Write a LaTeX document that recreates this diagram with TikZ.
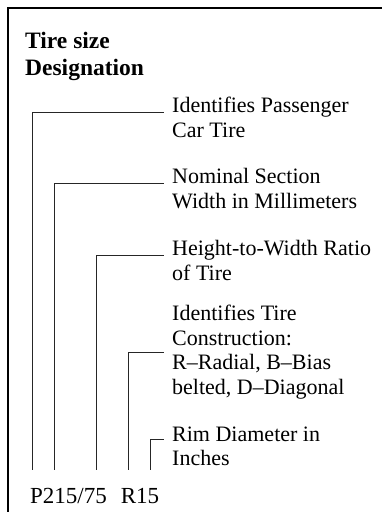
\documentclass[tikz,border=0pt]{standalone}
\usepackage{fontspec}
\setmainfont{Liberation Serif}
\tikzset{
  frame/.style={black,line width=1.5pt},
  lead/.style={black!85,line width=0.9pt},
  desc/.style={anchor=base west,align=left,inner xsep=8pt,inner ysep=0pt,
               font=\fontsize{22}{24.5}\selectfont},
  heading/.style={anchor=base west,align=left,inner sep=0pt,
                  font=\bfseries\fontsize{23.5}{27}\selectfont},
  sizecode/.style={anchor=base west,inner sep=0pt,font=\fontsize{23}{27}\selectfont},
}

\begin{document}
\begin{tikzpicture}[x=1pt,y=1pt]
  \useasboundingbox (0,0) rectangle (382,512);
  \draw[frame] (382,504.2) -- (8,504.2) -- (8,0);

  \node[heading] (head) at (25,436) {Tire size\\Designation};
  \node[sizecode] (code) at (30,9) {P215/75\hspace{14pt}R15};

  % feet of the leaders, just above the size code
  \coordinate (tP) at (32,42);
  \coordinate (tW) at (54,42);
  \coordinate (tR) at (96,42);
  \coordinate (tC) at (128,42);
  \coordinate (tD) at (150,42);

  % nodes sit on the baseline of their last line
  \node[desc] (pass) at (164,374.5) {Identifies Passenger\\Car Tire};
  \node[desc] (width) at (164,303.5) {Nominal Section\\Width in Millimeters};
  \node[desc] (ratio) at (164,231.5) {Height-to-Width Ratio\\of Tire};
  \node[desc] (cons) at (164,117.5) {Identifies Tire\\Construction:\\R–Radial, B–Bias\\belted, D–Diagonal};
  \node[desc] (rim) at (164,46.5) {Rim Diameter in\\Inches};

  \draw[lead] (tP) |- ([yshift=25.5pt]pass.base west);
  \draw[lead] (tW) |- ([yshift=25.5pt]width.base west);
  \draw[lead] (tR) |- ([yshift=25.5pt]ratio.base west);
  \draw[lead] (tC) |- (cons.west);
  \draw[lead] (tD) |- ([yshift=26.5pt]rim.base west);
\end{tikzpicture}
\end{document}
